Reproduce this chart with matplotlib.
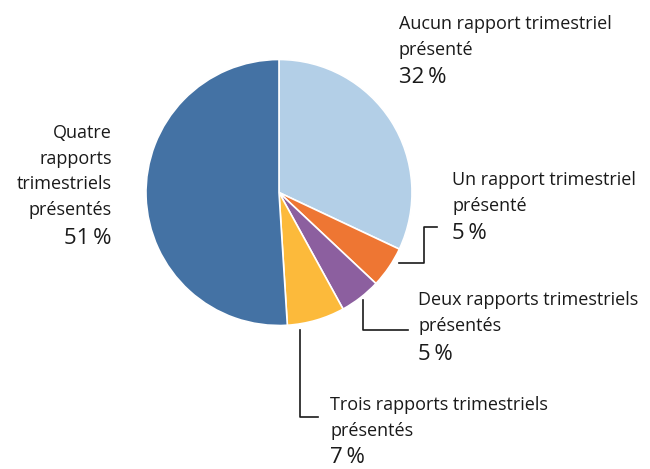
import matplotlib
matplotlib.use("Agg")
import matplotlib.pyplot as plt

plt.rcParams["font.family"] = ["Open Sans", "DejaVu Sans"]

labels = ["Aucun rapport trimestriel\nprésenté",
          "Un rapport trimestriel\nprésenté",
          "Deux rapports trimestriels\nprésentés",
          "Trois rapports trimestriels\nprésentés",
          "Quatre\nrapports\ntrimestriels\nprésentés"]
values = [32, 5, 5, 7, 51]
colors = ["#b3cfe7", "#ee7633", "#8c5f9f", "#fcba3b", "#4472a4"]

W, H = 650, 469
fig = plt.figure(figsize=(W / 100, H / 100), dpi=100)
ax = fig.add_axes([0, 0, 1, 1])

def py(y):
    # pixel row (from top) -> data y
    return H - y

ax.pie(values, colors=colors, startangle=90, counterclock=False,
       center=(279, py(192.5)), radius=133, frame=True,
       wedgeprops=dict(edgecolor="white", linewidth=1.2))
ax.set_xlim(0, W)
ax.set_ylim(0, H)
ax.set_aspect("equal")
ax.axis("off")

# label placement: (x, top y, alignment, percent top y)
layout = [(399, 15, "left", 67),
          (452, 171, "left", 223),
          (418, 291, "left", 344),
          (330, 396, "left", 447),
          (112, 124, "right", 228)]

for lab, v, (x, y, ha, yp) in zip(labels, values, layout):
    ax.text(x, py(y), lab, ha=ha, va="top", fontsize=13,
            color="#1a1a1a", linespacing=1.55)
    ax.text(x, py(yp), f"{v}\u2009%", ha=ha, va="top", fontsize=16,
            color="#1a1a1a")

# leader lines (elbows)
leaders = [[(399, 263), (424, 263), (424, 227), (437, 227)],
           [(363, 300), (363, 330), (408, 330)],
           [(300, 330), (300, 417), (318, 417)]]
for pts in leaders:
    xs = [p[0] for p in pts]
    ys = [py(p[1]) for p in pts]
    ax.plot(xs, ys, color="#1a1a1a", lw=1.2)

fig.savefig("out.png", dpi=100)
